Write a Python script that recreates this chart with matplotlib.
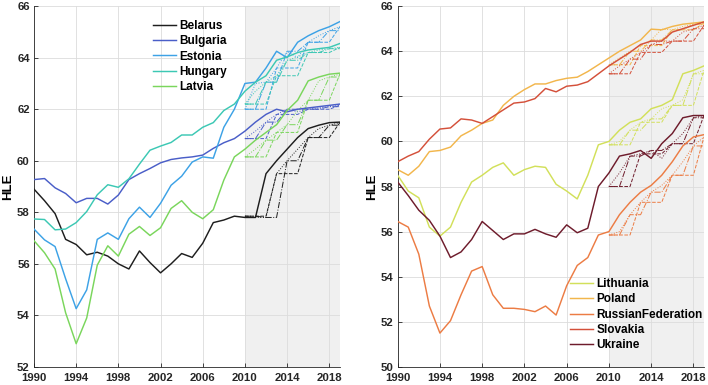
import numpy as np
import matplotlib
matplotlib.use("Agg")
import matplotlib.pyplot as plt

plt.rcParams['font.family'] = ['Liberation Sans', 'DejaVu Sans']
plt.rcParams['font.weight'] = 'bold'

years = list(range(1990, 2020))
x_ticks = [1990, 1994, 1998, 2002, 2006, 2010, 2014, 2018]

# ---- left panel ----
left_names = ["Belarus", "Bulgaria", "Estonia", "Hungary", "Latvia"]
belarus = [58.9, 58.45, 57.95, 56.95, 56.75, 56.35, 56.45, 56.3, 56.0, 55.8,
           56.5, 56.05, 55.65, 56.0, 56.4, 56.25, 56.8, 57.6, 57.7, 57.85,
           57.8, 57.8, 59.5, 60.0, 60.45, 60.9, 61.25, 61.38, 61.48, 61.5]
bulgaria = [59.27, 59.31, 58.95, 58.73, 58.37, 58.54, 58.54, 58.32, 58.67, 59.27,
            59.5, 59.7, 59.92, 60.05, 60.11, 60.15, 60.22, 60.48, 60.7, 60.86,
            61.15, 61.5, 61.8, 62.0, 61.9, 62.0, 62.05, 62.1, 62.15, 62.2]
estonia = [57.35, 56.93, 56.67, 55.42, 54.26, 54.99, 56.95, 57.2, 56.95, 57.75,
           58.2, 57.8, 58.35, 59.05, 59.4, 59.95, 60.15, 60.1, 61.3, 62.0,
           63.0, 63.05, 63.6, 64.25, 64.0, 64.6, 64.85, 65.05, 65.2, 65.4]
hungary = [57.74, 57.72, 57.32, 57.35, 57.6, 58.03, 58.68, 59.07, 58.97, 59.3,
           59.87, 60.41, 60.57, 60.71, 61.0, 61.0, 61.3, 61.48, 61.95, 62.2,
           62.7, 63.05, 63.3, 63.9, 64.03, 64.2, 64.3, 64.35, 64.4, 64.55]
latvia = [56.9, 56.43, 55.8, 54.1, 52.9, 53.9, 55.95, 56.7, 56.3, 57.15,
          57.45, 57.1, 57.4, 58.15, 58.45, 58.0, 57.75, 58.1, 59.25, 60.15,
          60.45, 60.8, 61.1, 61.4, 61.95, 62.35, 63.1, 63.25, 63.36, 63.4]
left_series = [belarus, bulgaria, estonia, hungary, latvia]
left_colors = ["#1e1e1e", "#4a5ec8", "#3da2e6", "#3cc8b4", "#7ad65c"]

# ---- right panel ----
right_names = ["Lithuania", "Poland", "RussianFederation", "Slovakia", "Ukraine"]
lithuania = [58.5, 57.8, 57.5, 56.2, 55.8, 56.2, 57.3, 58.2, 58.5, 58.85,
             59.05, 58.5, 58.75, 58.9, 58.85, 58.1, 57.8, 57.45, 58.5, 59.85,
             60.0, 60.5, 60.85, 61.0, 61.45, 61.6, 61.85, 63.0, 63.15, 63.35]
poland = [58.75, 58.5, 58.9, 59.55, 59.6, 59.75, 60.25, 60.5, 60.8, 60.95,
          61.6, 62.0, 62.3, 62.55, 62.55, 62.7, 62.8, 62.85, 63.1, 63.4,
          63.7, 64.0, 64.25, 64.5, 64.98, 64.95, 65.1, 65.2, 65.25, 65.3]
russia = [56.45, 56.2, 55.0, 52.7, 51.5, 52.05, 53.2, 54.25, 54.45, 53.2,
          52.6, 52.6, 52.55, 52.45, 52.7, 52.3, 53.6, 54.5, 54.85, 55.85,
          56.0, 56.75, 57.3, 57.75, 58.05, 58.5, 59.1, 59.8, 60.2, 60.3]
slovakia = [59.1, 59.35, 59.55, 60.1, 60.55, 60.6, 61.0, 60.95, 60.8, 61.1,
            61.4, 61.7, 61.75, 61.9, 62.35, 62.2, 62.45, 62.5, 62.65, 63.0,
            63.35, 63.65, 63.95, 64.3, 64.45, 64.45, 64.85, 65.0, 65.15, 65.3]
ukraine = [58.2, 57.6, 56.95, 56.5, 55.8, 54.85, 55.1, 55.65, 56.45, 56.05,
           55.65, 55.9, 55.9, 56.1, 55.9, 55.75, 56.3, 55.95, 56.15, 58.0,
           58.6, 59.35, 59.45, 59.6, 59.25, 59.9, 60.35, 61.05, 61.15, 61.15]
right_series = [lithuania, poland, russia, slovakia, ukraine]
right_colors = ["#d2e05a", "#f2b64c", "#ec7c44", "#d4503a", "#6e1c2c"]

shade_start, shade_end = 2010, 2019
# reporting-vintage schemes for the 2010-2019 window: (update interval, linestyle)
vintages = [(1, ':'), (2, '-.'), (3, '--')]


def vintage_values(series, interval):
    out = []
    for t in range(shade_start, shade_end + 1):
        src = t - 1 - ((t - shade_start) % interval)
        out.append(series[src - years[0]])
    return out


fig = plt.figure(figsize=(7.08, 3.85), dpi=100)
ax1 = fig.add_axes([0.048, 0.047, 0.432, 0.937])
ax2 = fig.add_axes([0.5617, 0.047, 0.4326, 0.937])


def draw(ax, names, series, colors, ylim, legend_kw):
    ax.axvspan(shade_start, shade_end, color="#f0f0f0", zorder=0, lw=0)
    handles = []
    win = list(range(shade_start, shade_end + 1))
    for name, s, c in zip(names, series, colors):
        h, = ax.plot(years, s, color=c, lw=1.05, zorder=3, label=name)
        handles.append(h)
        for interval, ls in vintages:
            ax.plot(win, vintage_values(s, interval), color=c, lw=0.7,
                    ls=ls, zorder=2)
    ax.set_xlim(1990, 2019)
    ax.set_ylim(*ylim)
    ax.set_xticks(x_ticks)
    ax.set_yticks(np.arange(ylim[0], ylim[1] + 0.1, 2))
    ax.grid(True, color="#dcdcdc", lw=0.6, zorder=1)
    ax.set_axisbelow(True)
    ax.tick_params(direction='in', length=3, width=0.6, labelsize=8.2,
                   colors="#262626")
    ax.tick_params(axis='x', pad=4.6)
    ax.tick_params(axis='y', pad=3)
    for lab in ax.get_xticklabels() + ax.get_yticklabels():
        lab.set_fontweight('bold')
    for sp in ['top', 'right']:
        ax.spines[sp].set_visible(False)
    for sp in ['left', 'bottom']:
        ax.spines[sp].set_color("#262626")
        ax.spines[sp].set_linewidth(0.6)
    ax.set_ylabel("HLE", fontsize=9.5, fontweight='bold', labelpad=2)
    leg = ax.legend(handles=handles, frameon=False, fontsize=8.5,
                    handlelength=1.9, handletextpad=0.3, labelspacing=0.28,
                    borderaxespad=0, **legend_kw)
    for t in leg.get_texts():
        t.set_fontweight('bold')


draw(ax1, left_names, left_series, left_colors, (52, 66),
     dict(loc='upper left', bbox_to_anchor=(0.375, 0.975)))
draw(ax2, right_names, right_series, right_colors, (50, 66),
     dict(loc='lower left', bbox_to_anchor=(0.548, 0.03)))

fig.savefig("out.png", dpi=100)
